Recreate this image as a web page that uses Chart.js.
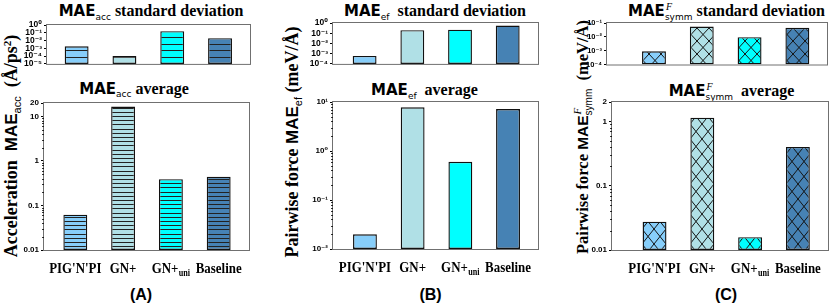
<!DOCTYPE html>
<html><head><meta charset="utf-8">
<script src="https://cdn.jsdelivr.net/npm/chart.js@4"></script>
<style>
html,body{margin:0;padding:0;background:#fff;}
#wrap{position:relative;width:831px;height:305px;overflow:hidden;background:#fff;}
#wrap canvas{position:absolute;}
.t{position:absolute;white-space:nowrap;line-height:1;transform:translate(-50%,-50%);color:#000;}
.yt{position:absolute;white-space:nowrap;line-height:1;transform:translate(-50%,-50%) rotate(-90deg);color:#000;}
.m{font:bold 15px/1 'DejaVu Sans';}
.s{font:9px/1 'DejaVu Sans';position:relative;top:3.5px;}
.w{font:bold 16px/1 'Liberation Serif';}
.stk{position:relative;font:9px/1 'DejaVu Sans';}
.sup{position:absolute;left:1px;top:-6px;font:italic 10px/1 'Liberation Serif';}
.ym{font:bold 17px/1 'Liberation Sans';}
.ys{font:11px/1 'Liberation Sans';position:relative;top:4px;}
.yw{font:bold 18px/1 'Liberation Serif';}
.yp{font:bold 11px/1 'Liberation Serif';position:relative;top:-6px;}
.pl{font:bold 16px/1 'Liberation Sans';}
</style>
</head><body>
<div id="wrap">
  <div class="t" style="left:151px;top:11px"><span class="m">MAE</span><span class="s">acc</span><span class="w"> standard deviation</span></div>
  <div class="t" style="left:134px;top:88.5px"><span class="m">MAE</span><span class="s">acc</span><span class="w"> average</span></div>
  <div class="t" style="left:435px;top:11px"><span class="m">MAE</span><span class="s">ef</span><span class="w">&nbsp; standard deviation</span></div>
  <div class="t" style="left:424.5px;top:90px"><span class="m">MAE</span><span class="s">ef</span><span class="w">&nbsp; average</span></div>
  <div class="t" style="left:726.5px;top:11px"><span class="m">MAE</span><span class="stk"><span class="sup">F</span><span class="s">symm</span></span><span class="w"> standard deviation</span></div>
  <div class="t" style="left:731.5px;top:91px"><span class="m">MAE</span><span class="stk"><span class="sup">F</span><span class="s">symm</span></span><span class="w">&nbsp; average</span></div>

  <div class="yt" style="left:11px;top:146px"><span class="yw">Acceleration&nbsp; </span><span class="ym">MAE</span><span class="ys">acc</span><span class="yw">&nbsp; (Å/ps<span class="yp">2</span>)</span></div>
  <div class="yt" style="left:292px;top:141.5px"><span class="yw">Pairwise force </span><span class="ym">MAE</span><span class="ys">ef</span><span class="yw"> (meV/Å)</span></div>
  <div class="yt" style="left:582.5px;top:137px"><span class="yw" style="font-size:16.5px">Pairwise force </span><span class="ym" style="font-size:15.5px">MAE</span><span class="stk" style="font-size:10px"><span class="sup" style="font-size:11px;top:-7px">F</span><span class="ys" style="font-size:10px">symm</span></span><span class="yw" style="font-size:16.5px">&nbsp; (meV/Å)</span></div>

  <div class="t pl" style="left:141px;top:295px">(A)</div>
  <div class="t pl" style="left:430.5px;top:295px">(B)</div>
  <div class="t pl" style="left:726px;top:295px">(C)</div>
</div>
<script>
// ---------------- data ----------------
const categories = ["PIG'N'PI", "GN+", "GN+_uni", "Baseline"];
const barColors = ['#87CEFA', '#B0E0E6', '#00FFFF', '#4682B4'];

const accStd  = [0.0018, 0.0001, 0.16, 0.02];
const accAvg  = [0.062, 16.6, 0.39, 0.44];
const efStd   = [0.0006, 0.2, 0.22, 0.57];
const efAvg   = [0.02, 7.8, 0.6, 7.2];
const symmStd = [0.0009, 0.055, 0.0095, 0.045];
const symmAvg = [0.0276, 1.14, 0.0158, 0.40];

const accStdTicks = [1, 1e-1, 1e-2, 1e-3, 1e-4, 1e-5];
const accStdTickLabels = ['10⁰','10⁻¹','10⁻²','10⁻³','10⁻⁴','10⁻⁵'];
const accAvgTicks = [20, 10, 1, 0.1, 0.01];
const accAvgTickLabels = ['20','10','1','0.1','0.01'];
const efStdTicks = [1, 1e-1, 1e-2, 1e-3, 1e-4];
const efStdTickLabels = ['10⁰','10⁻¹','10⁻²','10⁻³','10⁻⁴'];
const efAvgTicks = [10, 1, 0.1, 0.01];
const efAvgTickLabels = ['10¹','10⁰','10⁻¹','10⁻²'];
const symmStdTicks = [1e-1, 1e-2, 1e-3, 1e-4];
const symmStdTickLabels = ['10⁻¹','10⁻²','10⁻³','10⁻⁴'];
const symmAvgTicks = [2, 1, 0.1, 0.01];
const symmAvgTickLabels = ['2','1','0.1','0.01'];

// ---------------- patterns ----------------
function hatchH(color, tileH, lines) {
  const c = document.createElement('canvas'); c.width = 8; c.height = tileH;
  const g = c.getContext('2d');
  g.fillStyle = color; g.fillRect(0, 0, 8, tileH);
  g.fillStyle = '#222';
  lines.forEach(y => g.fillRect(0, y, 8, 1));
  return g.createPattern(c, 'repeat');
}
function hatchX(color, w, h) {
  const c = document.createElement('canvas'); c.width = w; c.height = h;
  const g = c.getContext('2d');
  g.fillStyle = color; g.fillRect(0, 0, w, h);
  g.strokeStyle = '#151515'; g.lineWidth = 1;
  g.beginPath();
  for (let dx = -w; dx <= w; dx += w) for (let dy = -h; dy <= h; dy += h) {
    g.moveTo(dx, dy); g.lineTo(dx + w, dy + h);
    g.moveTo(dx + w, dy); g.lineTo(dx, dy + h);
  }
  g.stroke();
  return g.createPattern(c, 'repeat');
}

// ---------------- plugins ----------------
const boxPlugin = {
  id: 'boxp',
  afterDatasetsDraw(chart) {
    const {ctx, chartArea: a} = chart;
    ctx.save();
    ctx.strokeStyle = '#707070'; ctx.lineWidth = 1;
    ctx.strokeRect(a.left - 0.5, a.top - 0.5, a.right - a.left + 1, a.bottom - a.top + 1);
    ctx.restore();
  }
};
const minorPlugin = {
  id: 'minor',
  afterDraw(chart) {
    const y = chart.scales.y, a = chart.chartArea, ctx = chart.ctx;
    ctx.save(); ctx.strokeStyle = '#000'; ctx.lineWidth = 0.8;
    ctx.beginPath();
    for (let d = Math.floor(Math.log10(y.min)); d <= Math.ceil(Math.log10(y.max)); d++) {
      for (let k = 2; k <= 9; k++) {
        const v = k * Math.pow(10, d);
        if (v <= y.min || v >= y.max) continue;
        const py = Math.round(y.getPixelForValue(v)) + 0.5;
        ctx.moveTo(a.left - 2, py); ctx.lineTo(a.left, py);
      }
    }
    ctx.stroke(); ctx.restore();
  }
};
const catPlugin = {
  id: 'cat',
  afterDraw(chart) {
    const x = chart.scales.x, a = chart.chartArea, ctx = chart.ctx;
    const big = "bold 15px 'Liberation Serif'", small = "bold 9.5px 'Liberation Serif'";
    categories.forEach((lab, i) => {
      const parts = lab.split('_');
      const cx = x.getPixelForValue(i), cy = a.bottom + 22.5;
      ctx.save();
      ctx.fillStyle = '#000'; ctx.textBaseline = 'alphabetic'; ctx.textAlign = 'left';
      ctx.translate(cx, cy); ctx.scale(0.86, 1);
      ctx.font = big;
      const w1 = ctx.measureText(parts[0]).width;
      let w2 = 0;
      if (parts[1]) { ctx.font = small; w2 = ctx.measureText(parts[1]).width + 0.5; }
      const sx = -(w1 + w2) / 2;
      ctx.font = big;
      ctx.fillText(parts[0], sx, 0);
      if (parts[1]) { ctx.font = small; ctx.fillText(parts[1], sx + w1 + 0.5, 3); }
      ctx.restore();
    });
  }
};

// ---------------- charts ----------------
const wrap = document.getElementById('wrap');
function makeChart(box, xr, values, ticks, tickLabels, colors, bottom, tickSize) {
  const YW = 42, PT = 8, PR = 3, XB = bottom ? 32 : 4;
  const cv = document.createElement('canvas');
  cv.width = box[2] - box[0] + YW + PR;
  cv.height = box[3] - box[1] + PT + XB;
  cv.style.left = (box[0] - YW) + 'px';
  cv.style.top = (box[1] - PT) + 'px';
  wrap.appendChild(cv);
  const plugins = [boxPlugin];
  if (bottom) plugins.push(minorPlugin, catPlugin);
  return new Chart(cv, {
    type: 'bar',
    data: { datasets: [{
      data: values.map((v, i) => ({x: i, y: v})),
      backgroundColor: colors,
      borderColor: '#111', borderWidth: 1.4, borderSkipped: false,
      barPercentage: 0.5, categoryPercentage: 1
    }]},
    options: {
      responsive: false, animation: false, devicePixelRatio: 1,
      layout: {padding: {left: 0, top: PT, right: PR, bottom: XB}},
      plugins: {legend: {display: false}, tooltip: {enabled: false}, title: {display: false}},
      scales: {
        x: {type: 'linear', display: false, offset: false, grid: {offset: false},
            min: xr[0], max: xr[1],
            afterBuildTicks: s => { s.ticks = values.map((v, i) => ({value: i})); }},
        y: {type: 'logarithmic', min: ticks[ticks.length - 1], max: ticks[0],
            afterBuildTicks: s => { s.ticks = ticks.map(v => ({value: v})); },
            afterFit: s => { s.width = YW; },
            border: {display: false},
            grid: {display: true, drawOnChartArea: false, drawTicks: true, tickLength: 3, tickColor: '#000', tickWidth: 1},
            ticks: {autoSkip: false, padding: 2, color: '#000',
                    font: {family: "'Liberation Sans','DejaVu Sans'", weight: 'bold', size: tickSize},
                    callback: (v, i) => tickLabels[i]}
        }
      }
    },
    plugins
  });
}

const patA_top = barColors.map(c => hatchH(c, 20, [0, 7, 13]));
const patA_bot = barColors.map(c => hatchH(c, 21, [0, 4, 8, 13, 17]));
const patC_top = barColors.map(c => hatchX(c, 12, 13));
const patC_bot = barColors.map(c => hatchX(c, 12, 15));

makeChart([47, 25, 250, 67],  [-0.62, 3.627], accStd,  accStdTicks,  accStdTickLabels,  patA_top, false, 8.5);
makeChart([44, 103, 249, 250], [-0.655, 3.634], accAvg, accAvgTicks, accAvgTickLabels, patA_bot, true, 8);
makeChart([333, 23, 538, 67], [-0.663, 3.635], efStd,  efStdTicks,  efStdTickLabels,  barColors, false, 8.5);
makeChart([333, 102, 538, 249], [-0.67, 3.628], efAvg,  efAvgTicks,  efAvgTickLabels,  barColors, true, 8);
makeChart([607, 23, 827, 67], [-0.983, 3.62], symmStd, symmStdTicks, symmStdTickLabels, patC_top, false, 7.5);
makeChart([612, 102, 828, 250], [-0.89, 3.63], symmAvg, symmAvgTicks, symmAvgTickLabels, patC_bot, true, 8);
</script>
</body></html>
